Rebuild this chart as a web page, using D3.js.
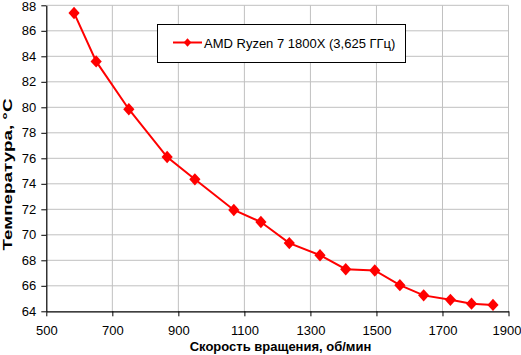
<!DOCTYPE html>
<html><head><meta charset="utf-8">
<script src="https://cdn.jsdelivr.net/npm/d3@7"></script>
<style>
html,body{margin:0;padding:0;background:#fff;}
svg{display:block;font-family:"Liberation Sans",Arial,sans-serif;}
</style></head>
<body>
<svg id="c" width="521" height="355"></svg>
<script>
const seriesName = "AMD Ryzen 7 1800X (3,625 ГГц)";
const rpm  = [584, 651, 750, 866, 950, 1068, 1150, 1236, 1329, 1407, 1495, 1571, 1643, 1724, 1788, 1853];
const temp = [87.4, 83.6, 79.85, 76.1, 74.35, 71.95, 71.0, 69.35, 68.4, 67.3, 67.2, 66.05, 65.25, 64.9, 64.6, 64.5];
const xTicks = [500, 700, 900, 1100, 1300, 1500, 1700, 1900];
const yTicks = [64, 66, 68, 70, 72, 74, 76, 78, 80, 82, 84, 86, 88];
const xTitle = "Скорость вращения, об/мин";
const yTitle = "Температура, °C";

const svg = d3.select("#c");
const L = 46.3, R = 508.5, T = 5.3, B = 311.3;
const x = d3.scaleLinear().domain([500, 1900]).range([L, R]);
const y = d3.scaleLinear().domain([64, 88]).range([B, T]);

const diamondType = (hw, hh) => ({
  draw(ctx) {
    ctx.moveTo(0, -hh); ctx.lineTo(hw, 0); ctx.lineTo(0, hh); ctx.lineTo(-hw, 0); ctx.closePath();
  }
});

// grid
svg.append("g").selectAll("line").data(xTicks.slice(1)).join("line")
  .attr("x1", d => x(d)).attr("x2", d => x(d)).attr("y1", T).attr("y2", B)
  .attr("stroke", "#c0c0c0").attr("stroke-width", 1);
svg.append("g").selectAll("line").data(yTicks.slice(1)).join("line")
  .attr("x1", L).attr("x2", R).attr("y1", d => y(d)).attr("y2", d => y(d))
  .attr("stroke", "#c0c0c0").attr("stroke-width", 1);

// axes
const fmt = d3.format("d");
const xAxis = svg.append("g").attr("transform", `translate(0,${B})`)
  .call(d3.axisBottom(x).tickValues(xTicks).tickFormat(fmt).tickSize(5).tickSizeOuter(0).tickPadding(9));
const yAxis = svg.append("g").attr("transform", `translate(${L},0)`)
  .call(d3.axisLeft(y).tickValues(yTicks).tickFormat(fmt).tickSize(5).tickSizeOuter(0).tickPadding(5));
[xAxis, yAxis].forEach(a => {
  a.select(".domain").attr("stroke", "#000").attr("stroke-width", 1.2);
  a.selectAll(".tick line").attr("stroke", "#000");
  a.selectAll(".tick text").attr("fill", "#000").attr("font-size", 13)
    .attr("font-family", "'Liberation Sans', Arial, sans-serif");
});
xAxis.selectAll(".tick text").filter(d => d === 1900).attr("text-anchor", "end").attr("dx", 12.5);
yAxis.selectAll(".tick text").filter(d => d === 88).attr("dy", "0.40em");

// line
svg.append("path").datum(rpm.map((r, i) => [r, temp[i]]))
  .attr("fill", "none").attr("stroke", "#ff0000").attr("stroke-width", 2)
  .attr("d", d3.line().x(d => x(d[0])).y(d => y(d[1])));

const diamond = d3.symbol().type(diamondType(5.6, 6.2));
svg.append("g").selectAll("path").data(rpm).join("path")
  .attr("transform", (d, i) => `translate(${x(d)},${y(temp[i])})`)
  .attr("d", diamond).attr("fill", "#ff0000");

// legend
const lg = svg.append("g");
lg.append("rect").attr("x", 157.5).attr("y", 24.5).attr("width", 248).attr("height", 38)
  .attr("fill", "#fff").attr("stroke", "#000").attr("stroke-width", 1);
lg.append("line").attr("x1", 173).attr("x2", 202).attr("y1", 42.5).attr("y2", 42.5)
  .attr("stroke", "#ff0000").attr("stroke-width", 2);
lg.append("path").attr("transform", "translate(187.5,42.5)")
  .attr("d", d3.symbol().type(diamondType(3.8, 4.3))()).attr("fill", "#ff0000");
lg.append("text").attr("x", 204).attr("y", 47.5).attr("font-size", 13).attr("fill", "#000")
  .text(seriesName);

// titles
svg.append("text").attr("x", 280.5).attr("y", 351).attr("text-anchor", "middle")
  .attr("font-size", 13).attr("font-weight", "bold").text(xTitle);
svg.append("text").attr("transform", "translate(12,174.5) rotate(-90)").attr("text-anchor", "middle")
  .attr("font-size", 12).attr("font-weight", "bold")
  .attr("textLength", 152).attr("lengthAdjust", "spacingAndGlyphs").text(yTitle);
</script>
</body></html>
